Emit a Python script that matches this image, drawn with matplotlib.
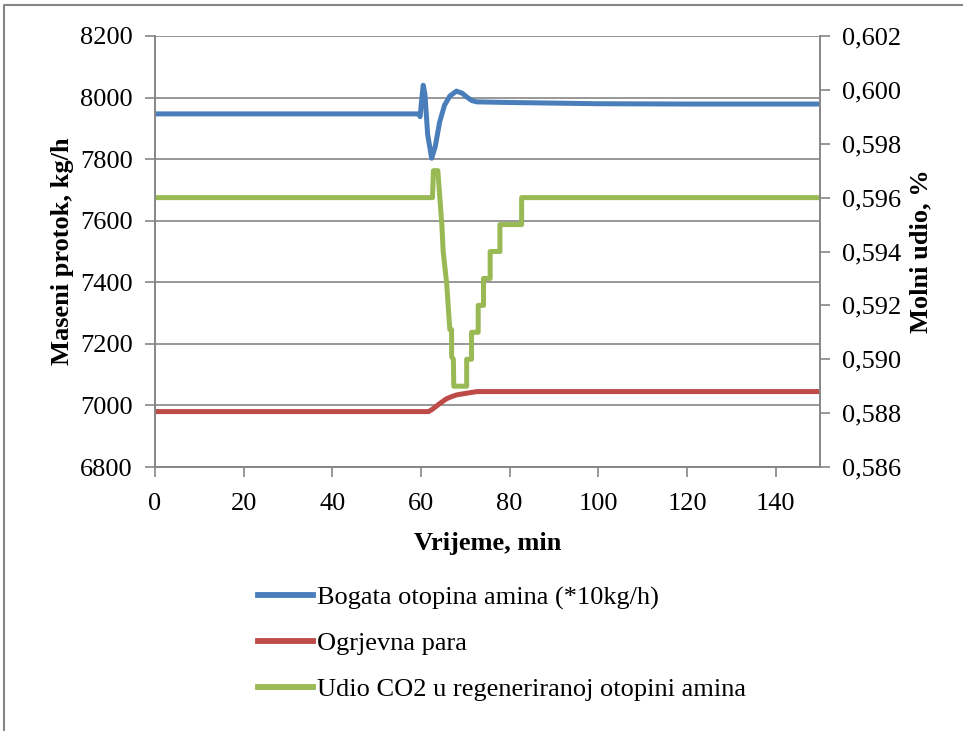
import matplotlib
matplotlib.use("Agg")
import matplotlib.pyplot as plt
from matplotlib.lines import Line2D
from matplotlib.ticker import FuncFormatter

plt.rcParams['font.family'] = ['Liberation Serif', 'DejaVu Serif']

# Bogata otopina amina (*10 kg/h), lijeva os
t_blue = [0, 59.5, 59.8, 60.2, 60.5, 60.9, 61.5, 62.4, 63.2, 64.2, 65.3, 66.5,
          68.0, 69.3, 70.3, 71.5, 72.6, 80, 90, 100, 120, 150]
v_blue = [7947, 7947, 7938, 8000, 8040, 8010, 7880, 7803, 7840, 7920, 7975, 8005,
          8021, 8014, 8002, 7990, 7986, 7984, 7982, 7980, 7979, 7979]

# Ogrjevna para, lijeva os
t_red = [0, 61.7, 62.5, 63.5, 64.3, 65.8, 67.0, 68.0, 70.0, 72.6, 150]
v_red = [6980, 6980, 6987, 6998, 7007, 7022, 7029, 7034, 7039, 7045, 7045]

# Udio CO2 u regeneriranoj otopini amina, desna os
t_green = [0, 62.6, 62.8, 63.8, 64.7, 65.0, 65.8, 66.5, 66.9, 66.9, 67.3, 67.4,
           70.3, 70.3, 71.4, 71.4, 72.9, 72.9, 74.1, 74.1, 75.6, 75.6, 77.8,
           77.8, 82.7, 82.7, 150]
v_green = [0.596, 0.596, 0.597, 0.597, 0.595, 0.5940, 0.5928, 0.5911, 0.5911, 0.5901,
           0.5900, 0.589, 0.589, 0.590, 0.590, 0.591, 0.591, 0.592, 0.592,
           0.593, 0.593, 0.594, 0.594, 0.595, 0.595, 0.596, 0.596]

labels = ['Bogata otopina amina (*10kg/h)', 'Ogrjevna para',
          'Udio CO2 u regeneriranoj otopini amina']
colors = ['#4A7EBB', '#BE4B48', '#98B954']

fig = plt.figure(figsize=(9.63, 7.31), dpi=100)
ax = fig.add_axes([155/963, 1-467/731, 665/963, 431/731])
ax2 = ax.twinx()

grid_c = '#868686'
fs = 19

ax.plot(t_blue, v_blue, color=colors[0], lw=3.6, solid_capstyle='round')
ax.plot(t_red, v_red, color=colors[1], lw=3.6, solid_capstyle='round')
ax2.plot(t_green, v_green, color=colors[2], lw=3.6, solid_capstyle='round')

ax.set_xlim(0, 150)
ax.set_ylim(6800, 8200)
ax.set_xticks(range(0, 141, 20))
ax.set_yticks(range(6800, 8201, 200))
ax2.set_ylim(0.586, 0.602)
ax2.set_yticks([0.586 + 0.002*i for i in range(9)])
ax2.yaxis.set_major_formatter(FuncFormatter(lambda v, p: f'{v:.3f}'.replace('.', ',')))

ax.grid(axis='y', color=grid_c, lw=1.2)
ax.set_axisbelow(True)
for a in (ax, ax2):
    a.spines['top'].set_visible(False)
    for s in ('left', 'right', 'bottom'):
        a.spines[s].set_color(grid_c)
        a.spines[s].set_linewidth(1.2)
    a.tick_params(colors=grid_c, labelcolor='black', labelsize=fs, length=7, width=1.2)
ax.tick_params(axis='y', pad=9)
ax2.tick_params(axis='y', pad=9)
ax.tick_params(axis='x', pad=12)

ax.set_xlabel('Vrijeme, min', fontsize=fs, fontweight='bold', labelpad=12)
ax.set_ylabel('Maseni protok, kg/h', fontsize=fs, fontweight='bold', labelpad=4)
ax2.set_ylabel('Molni udio, %', fontsize=fs, fontweight='bold', labelpad=6)

handles = [Line2D([], [], color=c, lw=4.2) for c in colors]
fig.legend(handles, labels, loc='upper left', bbox_to_anchor=(234/963, 1-562/731),
           frameon=False, fontsize=fs, handlelength=2.08, handletextpad=0.15,
           labelspacing=0.84)

# vanjski okvir
fig.add_artist(Line2D([4/963, 4/963, 1], [0, 1-5/731, 1-5/731], color=grid_c, lw=1.5))

fig.savefig('out.png', dpi=100)
